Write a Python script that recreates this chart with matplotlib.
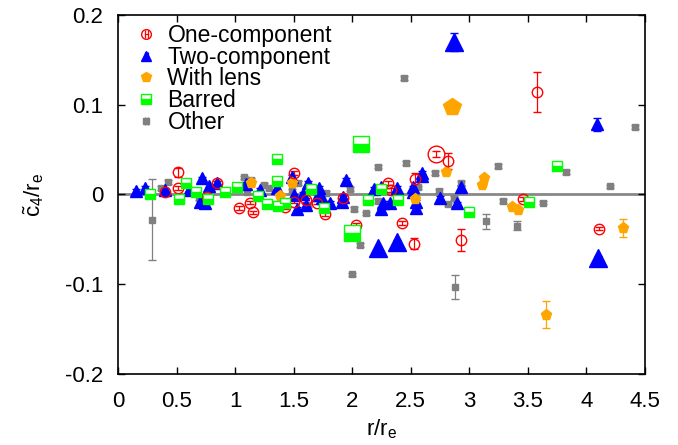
import numpy as np
import matplotlib
matplotlib.use("Agg")
import matplotlib.pyplot as plt
from matplotlib.lines import Line2D
from matplotlib.legend_handler import HandlerLine2D

plt.rcParams['font.family'] = ['Liberation Sans', 'DejaVu Sans']
plt.rcParams['mathtext.fontset'] = 'custom'
plt.rcParams['mathtext.rm'] = 'Liberation Sans'
plt.rcParams['mathtext.it'] = 'Liberation Sans'
plt.rcParams['mathtext.default'] = 'regular'
plt.rcParams['axes.unicode_minus'] = False

# one-component (x, y, err, size class)
one_x = [0.51, 0.40, 0.51, 0.85, 0.76, 1.03, 1.13, 1.15, 1.50, 1.50, 1.43, 1.61, 1.70, 1.77,
         1.92, 2.03, 2.31, 2.33, 2.43, 2.54, 2.72, 2.82, 2.53, 2.93, 3.46, 4.11, 3.58]
one_y = [0.025, 0.003, 0.007, 0.013, -0.003, -0.015, -0.009, -0.020, 0.024, -0.008, -0.014, -0.006,
         -0.009, -0.022, -0.004, -0.034, 0.013, 0.005, -0.032, 0.017, 0.045, 0.037, -0.055, -0.051,
         -0.005, -0.038, 0.114]
one_e = [0.005, 0.002, 0.002, 0.002, 0.002, 0.002, 0.002, 0.002, 0.002, 0.002, 0.002, 0.002,
         0.002, 0.002, 0.002, 0.002, 0.002, 0.002, 0.002, 0.007, 0.003, 0.009, 0.006, 0.012,
         0.002, 0.002, 0.022]
one_w = [1] * 20 + [2] + [1] * 6

two_x = [0.15, 0.23, 0.40, 0.61, 0.70, 0.74, 0.72, 0.78, 0.85, 1.09, 1.21, 1.36, 1.49, 1.50,
         1.58, 1.62, 1.53, 1.71, 1.72, 1.74, 1.61, 1.81, 1.91, 1.92, 1.95, 2.19, 2.25, 2.38,
         2.26, 2.25, 2.32, 2.52, 2.52, 2.60, 2.60, 2.55, 2.55, 2.75, 2.90, 2.93,
         2.22, 2.38, 2.87, 4.10, 4.09]
two_y = [0.004, 0.007, 0.005, 0.005, -0.008, -0.009, 0.018, 0.010, 0.013, 0.012, 0.005, 0.007,
         0.020, -0.001, 0.001, 0.013, -0.016, -0.001, 0.007, -0.004, -0.012, -0.009, -0.008,
         -0.003, 0.016, 0.006, 0.008, 0.007, -0.009, -0.016, -0.009, 0.008, 0.003, 0.024,
         0.021, -0.015, -0.008, -0.004, -0.010, 0.008,
         -0.060, -0.053, 0.170, -0.071, 0.078]
two_e = [0.002] * 42 + [0.010, 0.002, 0.007]
two_w = [1] * 40 + [2, 2, 2, 2, 1]

lens_x = [1.14, 1.38, 1.49, 2.54, 2.80, 3.13, 3.11, 3.37, 3.42, 4.31, 3.66, 2.85]
lens_y = [0.013, -0.002, 0.013, -0.005, 0.025, 0.018, 0.011, -0.014, -0.017, -0.037, -0.134, 0.0975]
lens_e = [0.002] * 9 + [0.010, 0.015, 0.002]
lens_w = [1] * 11 + [2]

bar_x = [0.27, 0.52, 0.58, 0.67, 0.77, 0.91, 1.02, 1.20, 1.27, 1.36, 1.36, 1.37, 1.43, 1.65,
         1.76, 2.14, 2.39, 2.25, 3.00, 3.75, 3.51, 2.08, 2.00]
bar_y = [0.001, -0.005, 0.013, 0.003, -0.005, 0.003, 0.008, -0.002, -0.011, 0.040, 0.015, -0.013,
         -0.010, 0.006, -0.015, -0.006, -0.006, 0.006, -0.020, 0.032, -0.008, 0.056, -0.043]
bar_e = [0.002] * 23
bar_w = [1] * 21 + [2, 2]

oth_x = [0.29, 0.37, 0.43, 0.69, 1.08, 1.14, 1.25, 1.29, 1.10, 1.54, 1.49, 1.62, 1.78, 1.98,
         2.02, 2.12, 2.22, 2.07, 2.00, 2.22, 2.46, 2.71, 2.74, 2.56, 2.82, 2.87, 2.93, 3.14,
         3.25, 3.29, 3.63, 3.41, 3.83, 4.20, 4.42, 2.44, 2.88]
oth_y = [-0.028, 0.007, 0.014, -0.004, 0.019, 0.016, 0.011, 0.007, 0.003, 0.013, 0.004, -0.012,
         0.002, 0.006, -0.016, -0.021, -0.007, -0.056, -0.089, 0.031, 0.035, 0.024, 0.004, 0.008,
         -0.011, -0.004, 0.013, -0.030, 0.032, -0.007, -0.009, -0.035, 0.025, 0.009, 0.075,
         0.130, -0.103]
oth_e = [0.045] + [0.002] * 26 + [0.008] + [0.002] * 3 + [0.005] + [0.002] * 4 + [0.013]

series = [
    # label, x, y, err, size class, color, marker, style
    ("Other", oth_x, oth_y, oth_e, [1] * len(oth_x), "#808080", "s", {}),
    ("Two-component", two_x, two_y, two_e, two_w, "#0000ff", "^", {}),
    ("With lens", lens_x, lens_y, lens_e, lens_w, "#ffa500", "p", {}),
    ("One-component", one_x, one_y, one_e, one_w, "#ff0000", "o", {"mfc": "none"}),
    ("Barred", bar_x, bar_y, bar_e, bar_w, "#00ff00", "s", {"fillstyle": "bottom", "markerfacecoloralt": "white"}),
]
small = {"s": 7.5, "^": 8, "p": 8, "o": 7.5}
big = {"s": 11.5, "^": 12.5, "p": 13, "o": 12}

fig = plt.figure(figsize=(6.78, 4.45), dpi=100)
ax = fig.add_axes([0.174, 0.1596, 0.777, 0.8067])

ax.axhline(0, color="#888888", lw=2, zorder=1)

handles = {}
hmap = {}
for lab, x, y, e, w, c, m, st in series:
    x = np.array(x); y = np.array(y); e = np.array(e); w = np.array(w)
    for k in (1, 2):
        sel = w == k
        if not sel.any():
            continue
        ms = small[m] if k == 1 else big[m]
        if lab == "Other":
            ms = 5
        ax.errorbar(x[sel], y[sel], yerr=e[sel], fmt=m, color=c, ms=ms, mec=c, mew=1,
                    elinewidth=0.9, capsize=3, capthick=0.9, zorder=3, **st)
    cap_h = Line2D([], [], color=c, lw=0.9, marker="|", ms=6, mew=0.9)
    mk_h = Line2D([], [], ls="none", color=c, marker=m, mec=c, mew=1,
                  ms=7 if lab != "Other" else 5, **st)
    hmap[cap_h] = HandlerLine2D(numpoints=2)
    hmap[mk_h] = HandlerLine2D(numpoints=1)
    handles[lab] = (cap_h, mk_h)

order = ["One-component", "Two-component", "With lens", "Barred", "Other"]
ax.legend([handles[o] for o in order], order, loc="upper left", frameon=False,
          fontsize=16.5, handlelength=0.75, handletextpad=0.55, labelspacing=-0.06,
          borderaxespad=0.0, handler_map=hmap, bbox_to_anchor=(0.02, 1.0))

ax.set_xlim(0, 4.5)
ax.set_ylim(-0.2, 0.2)
ax.set_xticks(np.arange(0, 4.51, 0.5))
ax.set_xticklabels(["0", "0.5", "1", "1.5", "2", "2.5", "3", "3.5", "4", "4.5"])
ax.set_yticks([-0.2, -0.1, 0, 0.1, 0.2])
ax.set_yticklabels(["-0.2", "-0.1", "0", "0.1", "0.2"])
ax.tick_params(direction="in", length=5, width=1, top=True, right=True, labelsize=16)
ax.tick_params(axis="x", pad=12)
ax.tick_params(axis="y", pad=10.5)
for s in ax.spines.values():
    s.set_linewidth(1.2)

ax.set_xlabel(r"r/r$_e$", fontsize=16, labelpad=4)
ax.set_ylabel(r"$\tilde{c}_4$/r$_e$", fontsize=16, labelpad=14)

fig.savefig("out.png", dpi=100)
